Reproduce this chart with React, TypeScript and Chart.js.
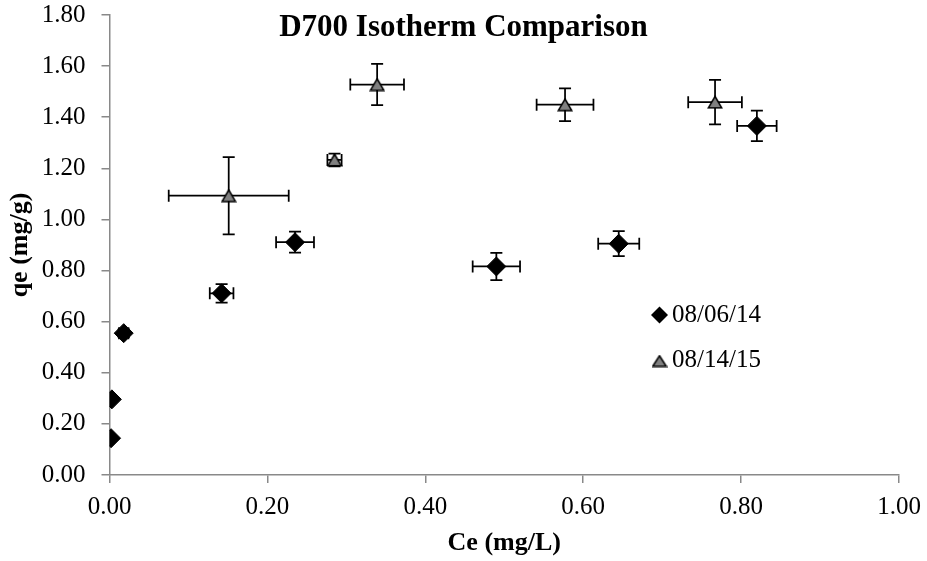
import React, { useEffect, useRef } from 'react';
import { Chart, registerables } from 'chart.js';

Chart.register(...registerables);

const chartTitle = 'D700 Isotherm Comparison';
const xAxisTitle = 'Ce (mg/L)';
const yAxisTitle = 'qe (mg/g)';
const seriesLabels = ['08/06/14', '08/14/15'];

// Series 1: 08/06/14 (diamonds)
const s1X = [0.002, 0.003, 0.018, 0.142, 0.235, 0.49, 0.645, 0.82];
const s1Y = [0.144, 0.296, 0.555, 0.711, 0.911, 0.816, 0.905, 1.366];
const s1XErr = [0, 0, 0.006, 0.015, 0.024, 0.03, 0.026, 0.025];
const s1YErr = [0, 0, 0.015, 0.036, 0.041, 0.053, 0.049, 0.06];

// Series 2: 08/14/15 (triangles)
const s2X = [0.151, 0.285, 0.339, 0.577, 0.767];
const s2Y = [1.093, 1.233, 1.528, 1.449, 1.459];
const s2XErr = [0.076, 0.009, 0.034, 0.036, 0.034];
const s2YErr = [0.151, 0.025, 0.081, 0.064, 0.087];

const xTicks = [0, 0.2, 0.4, 0.6, 0.8, 1.0];
const yTicks = [0, 0.2, 0.4, 0.6, 0.8, 1.0, 1.2, 1.4, 1.6, 1.8];

const FONT = "'Liberation Serif', 'Times New Roman', serif";
const AXIS_GREY = '#898989';
const TRI_FILL = '#808080';

function makeTriangle(w: number, h: number, lw: number): HTMLCanvasElement {
  const c = document.createElement('canvas');
  c.width = w;
  c.height = h;
  const g = c.getContext('2d')!;
  g.beginPath();
  g.moveTo(w / 2, lw / 2 + 0.5);
  g.lineTo(w - lw / 2 - 0.5, h - lw / 2 - 0.5);
  g.lineTo(lw / 2 + 0.5, h - lw / 2 - 0.5);
  g.closePath();
  g.fillStyle = TRI_FILL;
  g.fill();
  g.lineWidth = lw;
  g.strokeStyle = '#000';
  g.lineJoin = 'miter';
  g.stroke();
  return c;
}

const errorBarPlugin = {
  id: 'errorBars',
  beforeDatasetsDraw(chart: any) {
    const ctx = chart.ctx;
    const xs = chart.scales.x;
    const ys = chart.scales.y;
    const cap = 6;
    ctx.save();
    ctx.strokeStyle = '#000';
    ctx.lineWidth = 1.75;
    chart.data.datasets.forEach((ds: any) => {
      ds.data.forEach((p: any, j: number) => {
        const ex = ds.xErr[j];
        const ey = ds.yErr[j];
        const px = xs.getPixelForValue(p.x);
        const py = ys.getPixelForValue(p.y);
        if (ex > 0) {
          const l = xs.getPixelForValue(p.x - ex);
          const r = xs.getPixelForValue(p.x + ex);
          ctx.beginPath();
          ctx.moveTo(l, py);
          ctx.lineTo(r, py);
          ctx.moveTo(l, py - cap);
          ctx.lineTo(l, py + cap);
          ctx.moveTo(r, py - cap);
          ctx.lineTo(r, py + cap);
          ctx.stroke();
        }
        if (ey > 0) {
          const t = ys.getPixelForValue(p.y + ey);
          const b = ys.getPixelForValue(p.y - ey);
          ctx.beginPath();
          ctx.moveTo(px, t);
          ctx.lineTo(px, b);
          ctx.moveTo(px - cap, t);
          ctx.lineTo(px + cap, t);
          ctx.moveTo(px - cap, b);
          ctx.lineTo(px + cap, b);
          ctx.stroke();
        }
      });
    });
    ctx.restore();
  },
};

function makeTitleLegendPlugin(tri: HTMLCanvasElement) {
  return {
    id: 'titleLegend',
    afterDraw(chart: any) {
      const ctx = chart.ctx;
      ctx.save();
      // Title (overlaid on plot like the original)
      ctx.fillStyle = '#000';
      ctx.font = `bold 31px ${FONT}`;
      ctx.textAlign = 'center';
      ctx.textBaseline = 'alphabetic';
      ctx.fillText(chartTitle, 463.5, 36);

      // Legend inside plot area
      const lx = 659.5;
      const rows = [315, 361];
      ctx.beginPath();
      ctx.moveTo(lx, rows[0] - 8.5);
      ctx.lineTo(lx + 8.5, rows[0]);
      ctx.lineTo(lx, rows[0] + 8.5);
      ctx.lineTo(lx - 8.5, rows[0]);
      ctx.closePath();
      ctx.fillStyle = '#000';
      ctx.fill();
      ctx.drawImage(tri, lx - tri.width / 2, rows[1] - tri.height / 2);

      ctx.font = `25px ${FONT}`;
      ctx.textAlign = 'left';
      ctx.textBaseline = 'middle';
      ctx.fillStyle = '#000';
      ctx.fillText(seriesLabels[0], 672, rows[0]);
      ctx.fillText(seriesLabels[1], 672, rows[1] - 1);
      ctx.restore();
    },
  };
}

export default function App() {
  const canvasRef = useRef<HTMLCanvasElement | null>(null);

  useEffect(() => {
    const canvas = canvasRef.current;
    if (!canvas) return;
    const triPoint = makeTriangle(16, 14, 1.5);
    const triLegend = makeTriangle(16, 13, 1.5);

    const chart: any = new Chart(canvas, {
      type: 'scatter',
      data: {
        datasets: [
          {
            label: seriesLabels[0],
            data: s1X.map((x, i) => ({ x, y: s1Y[i] })),
            xErr: s1XErr,
            yErr: s1YErr,
            pointStyle: 'rectRot',
            pointRadius: 9.5,
            pointHoverRadius: 9.5,
            backgroundColor: '#000',
            borderColor: '#000',
            borderWidth: 1,
            showLine: false,
          } as any,
          {
            label: seriesLabels[1],
            data: s2X.map((x, i) => ({ x, y: s2Y[i] })),
            xErr: s2XErr,
            yErr: s2YErr,
            pointStyle: triPoint,
            pointRadius: 8,
            backgroundColor: TRI_FILL,
            borderColor: '#000',
            borderWidth: 1.5,
            showLine: false,
          } as any,
        ],
      },
      options: {
        animation: false,
        responsive: false,
        devicePixelRatio: 1,
        events: [],
        layout: { padding: { left: 0, right: 28, top: 15, bottom: 0 } },
        plugins: {
          legend: { display: false },
          title: { display: false },
          tooltip: { enabled: false },
        },
        scales: {
          x: {
            type: 'linear',
            min: 0,
            max: 1,
            afterBuildTicks: (s: any) => {
              s.ticks = xTicks.map((v) => ({ value: v }));
            },
            afterFit: (s: any) => {
              s.height = 86;
              s.paddingLeft = 0;
              s.paddingRight = 0;
            },
            ticks: {
              color: '#000',
              font: { family: FONT, size: 25 },
              padding: 9,
              maxRotation: 0,
              callback: (v: any) => Number(v).toFixed(2),
            },
            grid: {
              display: true,
              drawOnChartArea: false,
              drawTicks: true,
              tickLength: 8,
              color: AXIS_GREY,
              lineWidth: 1.5,
            },
            border: { display: true, color: AXIS_GREY, width: 1.5 },
            title: {
              display: true,
              text: xAxisTitle,
              color: '#000',
              font: { family: FONT, size: 26, weight: 'bold' },
              padding: { top: 0, bottom: 2 },
            },
          },
          y: {
            type: 'linear',
            min: 0,
            max: 1.8,
            afterBuildTicks: (s: any) => {
              s.ticks = yTicks.map((v) => ({ value: v }));
            },
            afterFit: (s: any) => {
              s.width = 109.5;
              s.paddingTop = 0;
              s.paddingBottom = 0;
            },
            ticks: {
              color: '#000',
              font: { family: FONT, size: 25 },
              padding: 16,
              callback: (v: any) => Number(v).toFixed(2),
            },
            grid: {
              display: true,
              drawOnChartArea: false,
              drawTicks: true,
              tickLength: 8,
              color: AXIS_GREY,
              lineWidth: 1.5,
            },
            border: { display: true, color: AXIS_GREY, width: 1.5 },
            title: {
              display: true,
              text: yAxisTitle,
              color: '#000',
              font: { family: FONT, size: 26, weight: 'bold' },
              padding: { top: 5, bottom: 0 },
            },
          },
        },
      } as any,
      plugins: [errorBarPlugin, makeTitleLegendPlugin(triLegend)],
    });

    return () => {
      chart.destroy();
    };
  }, []);

  return (
    <div style={{ position: 'absolute', left: 0, top: 0, width: 927, height: 561, background: '#fff' }}>
      <canvas ref={canvasRef} width={927} height={561} style={{ display: 'block' }} />
    </div>
  );
}
